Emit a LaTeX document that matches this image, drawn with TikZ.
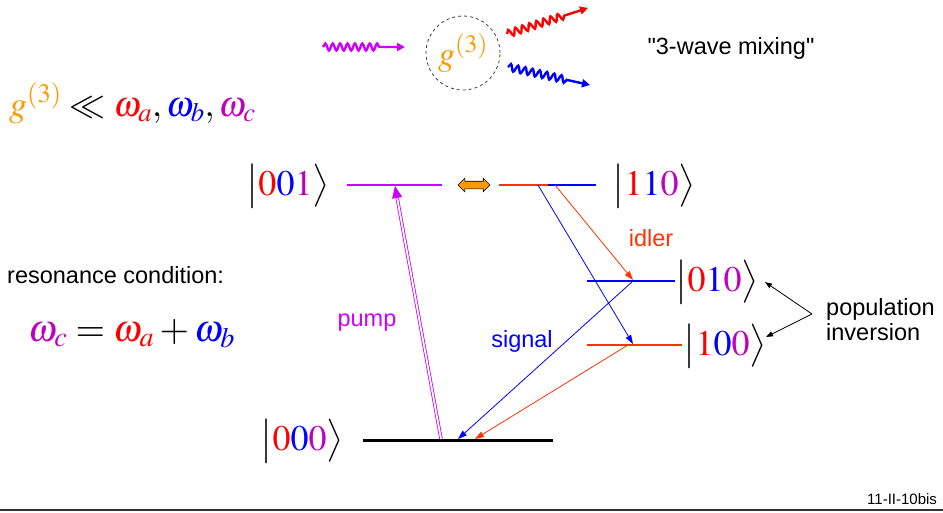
\documentclass[tikz,border=0pt]{standalone}
\usepackage{mathptmx}
\usepackage{fontspec}
\setmainfont{Liberation Serif}
\setsansfont{Liberation Sans}
\newfontfamily\plainsans{Liberation Sans}
\usetikzlibrary{arrows.meta,decorations.pathmorphing,shapes.arrows}
\definecolor{pumpc}{HTML}{CC00FF}
\definecolor{modea}{HTML}{FF0000}
\definecolor{modeb}{HTML}{0000FF}
\definecolor{modec}{HTML}{C000C0}
\definecolor{idlerc}{HTML}{FF3300}
\definecolor{coupling}{HTML}{FF9900}
\newcommand{\wa}{\textcolor{modea}{\omega_a}}
\newcommand{\wb}{\textcolor{modeb}{\omega_b}}
\newcommand{\wc}{\textcolor{modec}{\omega_c}}
\newcommand{\ketabc}[3]{$\bigl|\textcolor{modea}{#1}\textcolor{modeb}{#2}\textcolor{modec}{#3}\bigr\rangle$}

\begin{document}
\begin{tikzpicture}[x=1pt,y=-1pt,
  level/.style={line width=2pt},
  trans/.style={line width=0.8pt,-{Triangle[length=9pt,width=6pt]}},
  wave/.style={line width=2.4pt,-{Triangle[length=8pt,width=8pt]},decorate,
    decoration={snake,amplitude=3.5pt,segment length=7.4pt,post length=22pt}},
  ket/.style={font=\fontsize{36}{40}\selectfont,inner sep=0pt},
  lbl/.style={font=\sffamily\fontsize{23.5}{27}\selectfont,inner sep=0pt}]
  \path[use as bounding box] (0,0) rectangle (943,512);

  % Three-wave mixing sketch.
  \node[circle,draw=black!75,dashed,line width=0.8pt,minimum size=74pt,inner sep=0pt,
    text=coupling,font=\fontsize{34}{40}\selectfont] (g3) at (463,53) {$g^{(3)}$};
  \coordinate (win) at (323,47);
  \coordinate (wine) at (405,47);
  \coordinate (wa0) at (507,34);
  \coordinate (wa1) at (588,8);
  \coordinate (wb0) at (508,67);
  \coordinate (wb1) at (590,85);
  \draw[wave,pumpc] (win) -- (wine);
  \draw[wave,modea] (wa0) -- (wa1);
  \draw[wave,modeb] (wb0) -- (wb1);
  \node[inner sep=0pt,font=\plainsans\fontsize{23.5}{27}\selectfont] (mix) at (731,48) {"3-wave mixing"};

  \node[anchor=base west,inner sep=0pt,font=\fontsize{36}{40}\selectfont] (rel) at (9,116)
    {$\textcolor{coupling}{g^{(3)}}\ll\wa,\wb,\wc$};
  \node[lbl,anchor=west] (rc) at (7,275) {resonance condition:};
  \node[anchor=base west,inner sep=0pt,font=\fontsize{38}{42}\selectfont] (res) at (28,341)
    {$\wc=\wa+\wb$};

  % Levels.
  \coordinate (l001a) at (347,185); \coordinate (l001b) at (442,185);
  \coordinate (l110a) at (499,185); \coordinate (l110m) at (548,185); \coordinate (l110b) at (596,185);
  \coordinate (l010a) at (587,281); \coordinate (l010b) at (675,281);
  \coordinate (l100a) at (587,345); \coordinate (l100b) at (682,345);
  \coordinate (l000a) at (363,440); \coordinate (l000b) at (553,440);
  \draw[level,pumpc] (l001a) -- (l001b);
  \draw[level,idlerc] (l110a) -- (l110m);
  \draw[level,modeb] (l110m) -- (l110b);
  \draw[level,modeb] (l010a) -- (l010b);
  \draw[level,idlerc] (l100a) -- (l100b);
  \draw[line width=3pt] (l000a) -- (l000b);

  \node[ket] (k001) at (288,186) {\ketabc001};
  \node[ket] (k110) at (654,186) {\ketabc110};
  \node[ket] (k010) at (717,282) {\ketabc010};
  \node[ket] (k100) at (725,346) {\ketabc100};
  \node[ket] (k000) at (302,441) {\ketabc000};

  \node[double arrow,draw=black,fill=coupling,line width=0.6pt,minimum height=32pt,
    double arrow head extend=3pt,inner sep=3.5pt] (swap) at (474,185) {};

  % Transitions.
  \coordinate (p0) at (441,439); \coordinate (p1) at (395,186);
  \coordinate (s0) at (538,185); \coordinate (s1) at (633,344);
  \coordinate (s2) at (633,281); \coordinate (s3) at (458,439);
  \coordinate (i0) at (555,185); \coordinate (i1) at (633,280);
  \coordinate (i2) at (628,345); \coordinate (i3) at (475,439);
  \draw[pumpc,line width=0.8pt,double=white,double distance=1.8pt,
    -{Triangle[length=12pt,width=10pt]}] (p0) -- (p1);
  \draw[trans,modeb] (s0) -- (s1);
  \draw[trans,modeb] (s2) -- (s3);
  \draw[trans,idlerc] (i0) -- (i1);
  \draw[trans,idlerc] (i2) -- (i3);
  \node[lbl,text=pumpc] (pump) at (367,323) {pump};
  \node[lbl,text=modeb] (sig) at (522,341) {signal};
  \node[lbl,text=idlerc] (idl) at (651,238) {idler};

  % Population inversion.
  \node[lbl,anchor=west,align=left,font=\sffamily\fontsize{23.5}{25}\selectfont] (inv) at (826,320)
    {population\\inversion};
  \coordinate (pi) at (812,314);
  \coordinate (pu) at (765,282);
  \coordinate (pd) at (766,337);
  \draw[line width=0.8pt,-{Triangle[length=7pt,width=5pt]}] (pi) -- (pu);
  \draw[line width=0.8pt,-{Triangle[length=7pt,width=5pt]}] (pi) -- (pd);

  \draw[line width=2pt,black!80] (0,510) -- (943,510);
  \node[anchor=west,font=\sffamily\fontsize{15}{17}\selectfont,inner sep=0pt] (tag) at (867,499) {11-II-10bis};
\end{tikzpicture}
\end{document}
